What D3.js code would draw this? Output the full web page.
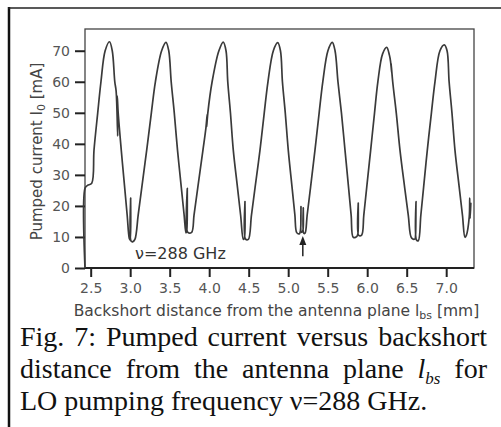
<!DOCTYPE html>
<html>
<head>
<meta charset="utf-8">
<script src="https://cdn.jsdelivr.net/npm/d3@7"></script>
<style>
  html, body { margin: 0; padding: 0; background: #fff; }
  svg { display: block; }
</style>
</head>
<body>
<div id="chart"></div>
<script>
// tick values
const xTicks = [2.5, 3.0, 3.5, 4.0, 4.5, 5.0, 5.5, 6.0, 6.5, 7.0]
const yTicks = [0, 10, 20, 30, 40, 50, 60, 70]

// backshort distance (mm) and pumped current (mA)
const distance = [
  2.428, 2.430, 2.460, 2.513, 2.542, 2.589, 2.630, 2.683, 2.738, 2.773,
  2.805, 2.822, 2.842, 2.836, 2.848, 2.887, 2.930, 2.962, 2.989, 3.000,
  3.006, 3.013, 3.035, 3.061, 3.101, 3.147, 3.209, 3.268, 3.319, 3.398,
  3.453, 3.488, 3.519, 3.558, 3.599, 3.647, 3.683, 3.706, 3.716, 3.723,
  3.730, 3.778, 3.808, 3.856, 3.921, 3.958, 3.975, 3.968, 3.983, 4.037,
  4.123, 4.178, 4.213, 4.235, 4.269, 4.305, 4.358, 4.398, 4.432, 4.445,
  4.453, 4.460, 4.495, 4.535, 4.581, 4.643, 4.697, 4.744, 4.812, 4.867,
  4.902, 4.927, 4.963, 5.001, 5.049, 5.085, 5.108, 5.140, 5.155, 5.162,
  5.168, 5.185, 5.191, 5.197, 5.213, 5.240, 5.283, 5.339, 5.392, 5.438,
  5.503, 5.558, 5.593, 5.630, 5.674, 5.719, 5.764, 5.797, 5.824, 5.870,
  5.882, 5.887, 5.893, 5.930, 5.957, 5.994, 6.044, 6.093, 6.135, 6.195,
  6.247, 6.282, 6.296, 6.310, 6.302, 6.323, 6.368, 6.415, 6.474, 6.520,
  6.563, 6.605, 6.612, 6.618, 6.624, 6.647, 6.679, 6.714, 6.761, 6.813,
  6.858, 6.921, 6.976, 7.011, 7.037, 7.073, 7.111, 7.165, 7.206, 7.238,
  7.255, 7.292, 7.298, 7.303, 7.312
]
const current = [
  0, 25.8, 26.6, 27.3, 38, 50, 60, 70, 72.9, 70,
  60, 57, 42.5, 55.5, 50, 38, 26, 17, 9.5, 9,
  22.5, 8.6, 8.5, 9.3, 17, 26, 38, 50, 60, 70,
  72.7, 70, 60, 50, 38, 26, 17, 11.3, 12, 25.7,
  11.5, 11.5, 17, 26, 38, 45, 49.5, 45.5, 50, 60,
  70, 72.8, 70, 60, 50, 38, 26, 17, 9.2, 9.6,
  21.4, 9.3, 9.2, 17, 26, 38, 50, 60, 70, 72.6,
  70, 60, 50, 38, 26, 17, 11.4, 11, 12, 19.8,
  11.5, 12, 19.4, 11.2, 11.2, 17, 26, 38, 50, 60,
  70, 72.7, 70, 60, 50, 38, 26, 17, 9.9, 10.2,
  11, 20.9, 10.5, 10.6, 17, 26, 38, 50, 60, 69,
  71.1, 68.5, 66.5, 63, 66, 60, 50, 38, 26, 17,
  9.6, 9.4, 10.5, 21.4, 9, 8.8, 17, 26, 38, 50,
  60, 70, 71.9, 70, 60, 50, 38, 26, 17, 9.9,
  10.5, 16.5, 22.5, 16, 21
]

// annotation: arrow marking the operating point, frequency label
const arrowAt = 5.185
const arrowFrom = 3.8
const arrowTo = 10.3
const freqLabel = 'ν=288 GHz'

// caption, word by word ('l_bs' is the italic symbol)
const captionLines = [
  ['Fig.', '7:', 'Pumped', 'current', 'versus', 'backshort'],
  ['distance', 'from', 'the', 'antenna', 'plane', 'l_bs', 'for'],
  ['LO', 'pumping', 'frequency', 'ν=288', 'GHz.']
]

const width = 501
const height = 427
const box = { left: 85, top: 29, right: 474, bottom: 268 }
const sans = 'DejaVu Sans, sans-serif'
const serif = 'Liberation Serif, Times New Roman, serif'

const svg = d3.select('#chart')
  .append('svg')
  .attr('width', width)
  .attr('height', height)

svg.append('rect').attr('width', width).attr('height', height).attr('fill', '#fff')

// page frame (left rule and top rule of the scanned page)
svg.append('line')
  .attr('x1', 9).attr('x2', 9).attr('y1', 7).attr('y2', height)
  .attr('stroke', '#111').attr('stroke-width', 2.5)
svg.append('line')
  .attr('x1', 8).attr('x2', width).attr('y1', 8).attr('y2', 8)
  .attr('stroke', '#222').attr('stroke-width', 1.6)

// scales
const x = d3.scaleLinear().domain([2.428, 7.352]).range([box.left, box.right])
const y = d3.scaleLinear().domain([0, 77]).range([box.bottom, box.top])

// plot box
svg.append('rect')
  .attr('x', box.left).attr('y', box.top)
  .attr('width', box.right - box.left).attr('height', box.bottom - box.top)
  .attr('fill', 'none').attr('stroke', '#444').attr('stroke-width', 1.3)
svg.append('line')
  .attr('x1', box.left).attr('x2', box.right).attr('y1', box.bottom).attr('y2', box.bottom)
  .attr('stroke', '#222').attr('stroke-width', 2)

// axes
const xAxis = svg.append('g')
  .attr('transform', `translate(0, ${box.bottom})`)
  .call(d3.axisBottom(x).tickValues(xTicks).tickFormat(d3.format('.1f')).tickSize(9).tickPadding(6))
const yAxis = svg.append('g')
  .attr('transform', `translate(${box.left}, 0)`)
  .call(d3.axisLeft(y).tickValues(yTicks).tickSize(10).tickPadding(5))

;[xAxis, yAxis].forEach(g => {
  g.select('.domain').remove()
  g.selectAll('.tick line').attr('stroke', '#222').attr('stroke-width', 2)
  g.selectAll('.tick text')
    .attr('fill', '#555')
    .style('font-family', sans)
    .style('font-size', '14px')
})

// data
const line = d3.line()
  .x((d, i) => x(distance[i]))
  .y((d, i) => y(current[i]))
  .curve(d3.curveCatmullRom.alpha(0.5))

svg.append('path')
  .attr('d', line(distance))
  .attr('fill', 'none')
  .attr('stroke', '#3a3a3a')
  .attr('stroke-width', 1.7)
  .attr('stroke-linejoin', 'round')

// arrow
const ax = x(arrowAt)
svg.append('line')
  .attr('x1', ax).attr('x2', ax)
  .attr('y1', y(arrowFrom)).attr('y2', y(arrowTo) + 6)
  .attr('stroke', '#222').attr('stroke-width', 1.5)
svg.append('path')
  .attr('d', `M${ax},${y(arrowTo)} L${ax - 3.5},${y(arrowTo) + 9} L${ax + 3.5},${y(arrowTo) + 9} Z`)
  .attr('fill', '#222')

// frequency label
svg.append('text')
  .attr('x', 135).attr('y', 259)
  .attr('fill', '#333')
  .style('font-family', sans)
  .style('font-size', '16px')
  .text(freqLabel)

// axis titles
const xTitle = svg.append('text')
  .attr('x', (70 + 483) / 2).attr('y', 316)
  .attr('text-anchor', 'middle')
  .attr('fill', '#444')
  .style('font-family', sans)
  .style('font-size', '15.5px')
xTitle.append('tspan').text('Backshort distance from the antenna plane l')
xTitle.append('tspan').attr('dy', 3).style('font-size', '11px').text('bs')
xTitle.append('tspan').attr('dy', -3).text(' [mm]')

const yTitle = svg.append('text')
  .attr('transform', `translate(42, ${(53 + 250) / 2}) rotate(-90)`)
  .attr('text-anchor', 'middle')
  .attr('fill', '#444')
  .style('font-family', sans)
  .style('font-size', '15px')
yTitle.append('tspan').text('Pumped current  I')
yTitle.append('tspan').attr('dy', 3).style('font-size', '11px').text('0')
yTitle.append('tspan').attr('dy', -3).text('  [mA]')

// caption, first two lines justified
const capSize = 28
const capLeft = 20
const capRight = 487
const capBaselines = [346, 377.5, 409.5]

captionLines.forEach((words, li) => {
  const nodes = words.map(w => {
    const t = svg.append('text')
      .attr('y', capBaselines[li])
      .attr('fill', '#111')
      .style('font-family', serif)
      .style('font-size', capSize + 'px')
    if (w === 'l_bs') {
      t.append('tspan').style('font-style', 'italic').text('l')
      t.append('tspan').style('font-style', 'italic').style('font-size', '17px').attr('dy', 6).text('bs')
    } else {
      t.text(w)
    }
    return t
  })
  const widths = nodes.map(t => t.node().getComputedTextLength())
  const total = d3.sum(widths)
  const gap = li < 2 ? (capRight - capLeft - total) / (words.length - 1) : capSize * 0.25
  let cx = capLeft
  nodes.forEach((t, i) => {
    t.attr('x', cx)
    cx += widths[i] + gap
  })
})
</script>
</body>
</html>
